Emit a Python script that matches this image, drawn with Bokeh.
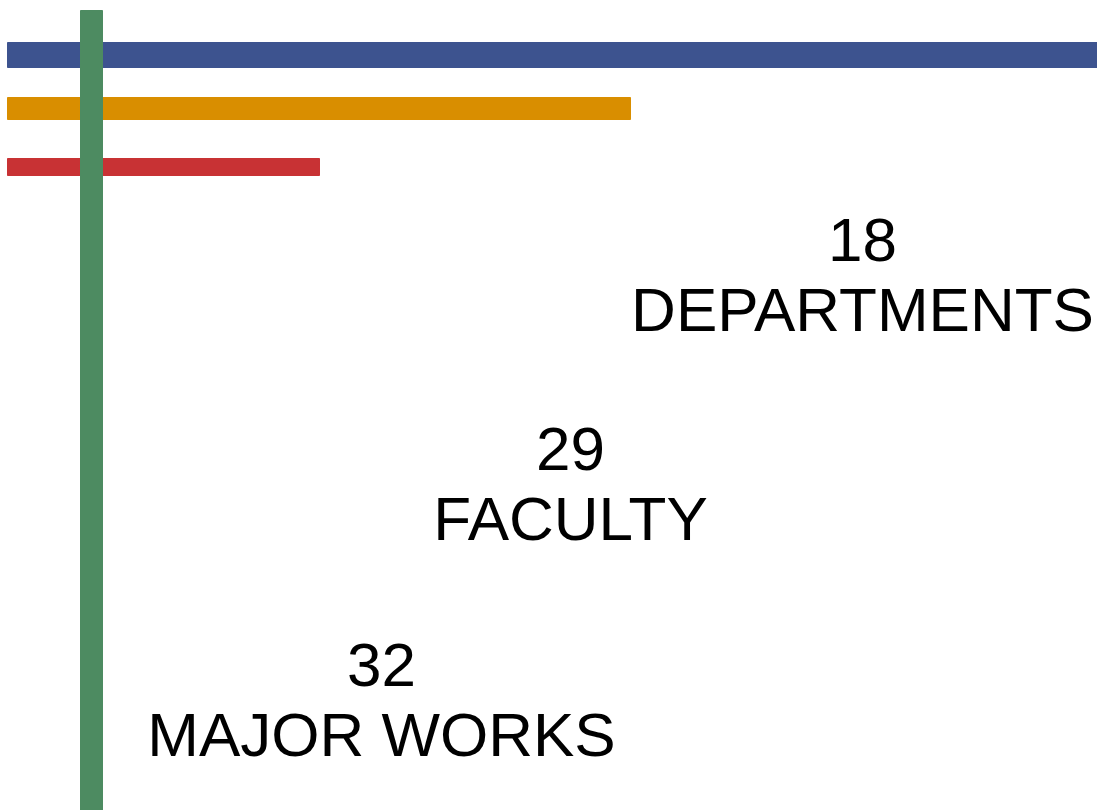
from bokeh.plotting import figure
from bokeh.models import Range1d, ColumnDataSource
from bokeh.core.properties import value
from bokeh.embed import file_html
from bokeh.resources import INLINE

# ---- data ----
bar_names = ["blue", "orange", "red"]
bar_lengths = [1090, 623, 312]          # bar lengths (px-scaled units)
bar_colors = ["#3D538F", "#D98E00", "#C83234"]

stat_values = ["18", "29", "32"]
stat_labels = ["DEPARTMENTS", "FACULTY", "MAJOR WORKS"]

# ---- layout ----
W, H = 1097, 810
bar_left = 7
bar_centers = [54.5, 108, 166.5]
bar_heights = [25, 22, 17]
label_x = [862, 570, 381]
label_baseline = [309, 518, 734]
line_gap = 70
font_px = "62px"

p = figure(width=W, height=H, output_backend="svg", toolbar_location=None,
           x_range=Range1d(0, W), y_range=Range1d(H, 0), min_border=0,
           outline_line_color=None, background_fill_color="white",
           border_fill_color="white")
p.axis.visible = False
p.grid.visible = False

src = ColumnDataSource(dict(y=bar_centers,
                            right=[bar_left + v for v in bar_lengths],
                            h=bar_heights, color=bar_colors))
p.hbar(y="y", left=bar_left, right="right", height="h", color="color", source=src)

# vertical green bar
p.vbar(x=[91], bottom=[H], top=[10], width=22, color="#4D8B61")

tsrc = ColumnDataSource(dict(x=label_x,
                             yv=[b - line_gap for b in label_baseline],
                             yl=label_baseline,
                             v=stat_values, l=stat_labels))
common = dict(text_font=value("Liberation Sans"), text_font_size=font_px,
              text_align="center", text_baseline="alphabetic", text_color="black")
p.text(x="x", y="yv", text="v", source=tsrc, **common)
p.text(x="x", y="yl", text="l", source=tsrc, **common)

open("out.html", "w").write(file_html(p, INLINE))
